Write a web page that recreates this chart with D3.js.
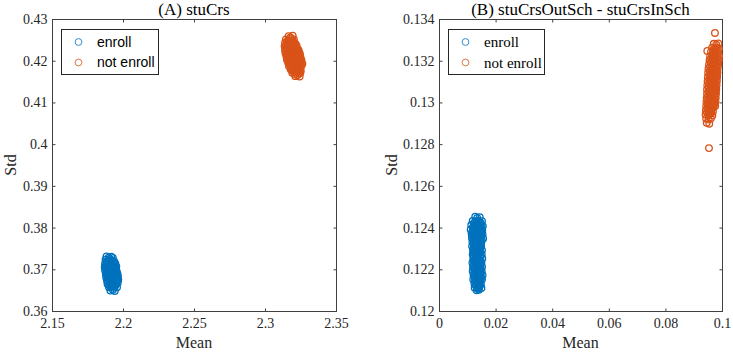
<!DOCTYPE html>
<html>
<head>
<meta charset="utf-8">
<script src="https://cdn.jsdelivr.net/npm/d3@7"></script>
<style>
  body { margin: 0; background: #fff; }
  svg { display: block; }
  .tick text { font-family: "Liberation Serif", "Times New Roman", serif; font-size: 14px; fill: #262626; }
  .tick line { stroke: #404040; }
</style>
</head>
<body>
<div id="chart"></div>
<script>
//
// two MATLAB style scatter panels
//

var seriesNames = ['enroll', 'not enroll'];
var seriesColors = ['#0072BD', '#D95319'];

// panel A : stuCrs  [mean, std]
var enrollA = [
    [2.1884,0.3731],[2.1899,0.3728],[2.1917,0.3730],[2.1929,0.3727],
    [2.1877,0.3723],[2.1894,0.3720],[2.1908,0.3724],[2.1925,0.3721],[2.1938,0.3719],
    [2.1873,0.3713],[2.1891,0.3716],[2.1904,0.3712],[2.1921,0.3715],[2.1933,0.3711],[2.1946,0.3714],
    [2.1871,0.3705],[2.1886,0.3707],[2.1902,0.3704],[2.1915,0.3708],[2.1931,0.3705],[2.1943,0.3703],[2.1953,0.3707],
    [2.1874,0.3697],[2.1890,0.3699],[2.1903,0.3696],[2.1919,0.3700],[2.1931,0.3697],[2.1947,0.3699],[2.1956,0.3695],
    [2.1879,0.3689],[2.1892,0.3691],[2.1908,0.3688],[2.1920,0.3692],[2.1936,0.3689],[2.1948,0.3691],[2.1962,0.3688],
    [2.1881,0.3681],[2.1897,0.3684],[2.1910,0.3680],[2.1926,0.3683],[2.1938,0.3681],[2.1954,0.3679],[2.1964,0.3683],
    [2.1887,0.3673],[2.1899,0.3675],[2.1916,0.3672],[2.1928,0.3676],[2.1944,0.3673],[2.1956,0.3671],[2.1967,0.3675],
    [2.1891,0.3665],[2.1908,0.3667],[2.1920,0.3664],[2.1936,0.3668],[2.1948,0.3665],[2.1963,0.3667],
    [2.1901,0.3657],[2.1914,0.3659],[2.1931,0.3656],[2.1943,0.3660],[2.1958,0.3657],
    [2.1911,0.3649],[2.1929,0.3651],[2.1942,0.3648],
    [2.1883,0.3718],[2.1899,0.3718],[2.1914,0.3717],[2.1929,0.3718],
    [2.1880,0.3710],[2.1896,0.3709],[2.1911,0.3710],[2.1926,0.3710],[2.1940,0.3709],
    [2.1881,0.3702],[2.1896,0.3702],[2.1911,0.3701],[2.1925,0.3702],[2.1939,0.3702],[2.1950,0.3701],
    [2.1883,0.3694],[2.1898,0.3693],[2.1912,0.3694],[2.1927,0.3694],[2.1941,0.3693],[2.1954,0.3694],
    [2.1886,0.3686],[2.1901,0.3686],[2.1916,0.3685],[2.1930,0.3686],[2.1944,0.3686],[2.1957,0.3685],
    [2.1890,0.3678],[2.1905,0.3677],[2.1920,0.3678],[2.1934,0.3678],[2.1948,0.3677],[2.1960,0.3678],
    [2.1895,0.3670],[2.1910,0.3670],[2.1925,0.3669],[2.1939,0.3670],[2.1953,0.3670],
    [2.1903,0.3662],[2.1918,0.3661],[2.1933,0.3662],[2.1947,0.3662]
];
var notEnrollA = [
    [2.3166,0.4259],[2.3179,0.4256],[2.3195,0.4260],
    [2.3147,0.4251],[2.3163,0.4248],[2.3176,0.4252],[2.3193,0.4249],[2.3204,0.4251],
    [2.3141,0.4243],[2.3157,0.4240],[2.3170,0.4244],[2.3187,0.4241],[2.3199,0.4243],[2.3215,0.4240],
    [2.3138,0.4235],[2.3154,0.4232],[2.3167,0.4236],[2.3184,0.4233],[2.3196,0.4235],[2.3213,0.4232],[2.3223,0.4236],
    [2.3141,0.4227],[2.3154,0.4224],[2.3171,0.4228],[2.3184,0.4225],[2.3200,0.4227],[2.3213,0.4224],[2.3229,0.4228],[2.3237,0.4225],
    [2.3143,0.4219],[2.3160,0.4216],[2.3173,0.4220],[2.3189,0.4217],[2.3202,0.4219],[2.3219,0.4216],[2.3231,0.4220],[2.3246,0.4217],
    [2.3150,0.4211],[2.3163,0.4208],[2.3180,0.4212],[2.3192,0.4209],[2.3209,0.4211],[2.3221,0.4208],[2.3238,0.4212],[2.3250,0.4209],
    [2.3154,0.4203],[2.3171,0.4200],[2.3184,0.4204],[2.3200,0.4201],[2.3213,0.4203],[2.3229,0.4200],[2.3242,0.4204],[2.3257,0.4201],
    [2.3163,0.4195],[2.3176,0.4192],[2.3192,0.4196],[2.3205,0.4193],[2.3221,0.4195],[2.3234,0.4192],[2.3250,0.4196],[2.3263,0.4193],
    [2.3169,0.4187],[2.3186,0.4184],[2.3199,0.4188],[2.3215,0.4185],[2.3228,0.4187],[2.3244,0.4184],[2.3257,0.4188],
    [2.3181,0.4179],[2.3194,0.4176],[2.3211,0.4180],[2.3223,0.4177],[2.3240,0.4179],[2.3252,0.4176],
    [2.3192,0.4171],[2.3209,0.4168],[2.3221,0.4172],[2.3238,0.4169],[2.3249,0.4171],
    [2.3213,0.4163],[2.3227,0.4165],[2.3244,0.4162],
    [2.3155,0.4246],[2.3170,0.4246],[2.3185,0.4245],[2.3199,0.4246],
    [2.3149,0.4238],[2.3164,0.4238],[2.3179,0.4237],[2.3193,0.4238],[2.3207,0.4238],
    [2.3147,0.4230],[2.3162,0.4230],[2.3177,0.4229],[2.3191,0.4230],[2.3206,0.4230],[2.3220,0.4229],
    [2.3150,0.4222],[2.3165,0.4222],[2.3180,0.4221],[2.3195,0.4222],[2.3209,0.4222],[2.3224,0.4221],[2.3236,0.4222],
    [2.3155,0.4214],[2.3170,0.4214],[2.3185,0.4213],[2.3200,0.4214],[2.3214,0.4214],[2.3229,0.4213],[2.3242,0.4214],
    [2.3160,0.4206],[2.3175,0.4206],[2.3190,0.4205],[2.3204,0.4206],[2.3219,0.4206],[2.3234,0.4205],[2.3248,0.4206],
    [2.3166,0.4198],[2.3181,0.4198],[2.3196,0.4197],[2.3210,0.4198],[2.3225,0.4198],[2.3240,0.4197],[2.3253,0.4198],
    [2.3175,0.4190],[2.3189,0.4190],[2.3204,0.4189],[2.3219,0.4190],[2.3233,0.4190],[2.3248,0.4189],
    [2.3186,0.4182],[2.3200,0.4182],[2.3215,0.4181],[2.3230,0.4182],[2.3244,0.4182],
    [2.3200,0.4174],[2.3215,0.4174],[2.3230,0.4173],[2.3243,0.4174]
];

// panel B : stuCrsOutSch - stuCrsInSch
var enrollB = [
    [0.0128,0.12452],[0.0135,0.12446],[0.0144,0.12450],
    [0.0119,0.12432],[0.0128,0.12428],[0.0137,0.12434],[0.0143,0.12427],[0.0152,0.12431],
    [0.0114,0.12412],[0.0124,0.12408],[0.0130,0.12413],[0.0140,0.12406],[0.0146,0.12411],[0.0155,0.12407],
    [0.0112,0.12391],[0.0121,0.12387],[0.0130,0.12393],[0.0136,0.12386],[0.0146,0.12392],[0.0153,0.12388],
    [0.0115,0.12371],[0.0121,0.12367],[0.0131,0.12373],[0.0138,0.12366],[0.0147,0.12372],[0.0154,0.12368],
    [0.0116,0.12351],[0.0125,0.12347],[0.0131,0.12353],[0.0141,0.12346],[0.0147,0.12352],[0.0156,0.12348],
    [0.0118,0.12331],[0.0124,0.12327],[0.0134,0.12333],[0.0140,0.12326],[0.0150,0.12332],
    [0.0117,0.12311],[0.0127,0.12307],[0.0133,0.12313],[0.0143,0.12306],[0.0149,0.12312],
    [0.0120,0.12291],[0.0126,0.12287],[0.0136,0.12293],[0.0142,0.12286],[0.0152,0.12292],
    [0.0119,0.12271],[0.0129,0.12267],[0.0135,0.12273],[0.0145,0.12266],[0.0151,0.12272],
    [0.0121,0.12251],[0.0127,0.12247],[0.0137,0.12253],[0.0143,0.12246],[0.0153,0.12252],
    [0.0118,0.12231],[0.0128,0.12227],[0.0134,0.12233],[0.0144,0.12226],[0.0150,0.12232],
    [0.0120,0.12211],[0.0126,0.12207],[0.0136,0.12213],[0.0142,0.12206],[0.0152,0.12212],
    [0.0119,0.12191],[0.0129,0.12187],[0.0135,0.12193],[0.0145,0.12186],[0.0151,0.12192],
    [0.0122,0.12171],[0.0128,0.12167],[0.0138,0.12173],[0.0144,0.12166],[0.0154,0.12172],
    [0.0121,0.12151],[0.0131,0.12147],[0.0137,0.12153],[0.0147,0.12146],[0.0152,0.12152],
    [0.0125,0.12131],[0.0131,0.12127],[0.0141,0.12133],[0.0148,0.12129],
    [0.0126,0.12112],[0.0136,0.12108],[0.0142,0.12114],[0.0150,0.12110],
    [0.0133,0.12099],[0.0141,0.12102],
    [0.0124,0.12422],[0.0133,0.12421],[0.0141,0.12422],[0.0148,0.12421],
    [0.0120,0.12402],[0.0128,0.12401],[0.0136,0.12402],[0.0144,0.12401],[0.0151,0.12402],
    [0.0118,0.12382],[0.0126,0.12381],[0.0134,0.12382],[0.0142,0.12381],[0.0150,0.12382],
    [0.0119,0.12362],[0.0127,0.12361],[0.0135,0.12362],[0.0143,0.12361],[0.0150,0.12362],
    [0.0121,0.12342],[0.0129,0.12341],[0.0137,0.12342],[0.0145,0.12341],[0.0151,0.12342],
    [0.0122,0.12322],[0.0130,0.12321],[0.0138,0.12322],[0.0146,0.12321],
    [0.0122,0.12302],[0.0130,0.12301],[0.0138,0.12302],[0.0146,0.12301],
    [0.0123,0.12282],[0.0131,0.12281],[0.0139,0.12282],[0.0147,0.12281],
    [0.0123,0.12262],[0.0131,0.12261],[0.0139,0.12262],[0.0147,0.12261],
    [0.0123,0.12242],[0.0131,0.12241],[0.0139,0.12242],[0.0147,0.12241],
    [0.0123,0.12222],[0.0131,0.12221],[0.0139,0.12222],[0.0147,0.12221],
    [0.0124,0.12202],[0.0132,0.12201],[0.0140,0.12202],[0.0148,0.12201],
    [0.0124,0.12182],[0.0132,0.12181],[0.0140,0.12182],[0.0148,0.12181],
    [0.0125,0.12162],[0.0133,0.12161],[0.0141,0.12162],[0.0149,0.12161],
    [0.0127,0.12142],[0.0135,0.12141],[0.0143,0.12142],
    [0.0130,0.12122],[0.0138,0.12121],[0.0145,0.12122]
];
var notEnrollB = [
    [0.0971,0.13281],[0.0980,0.13277],[0.0987,0.13283],
    [0.0965,0.13262],[0.0975,0.13258],[0.0981,0.13264],[0.0989,0.13257],
    [0.0961,0.13242],[0.0971,0.13238],[0.0977,0.13244],[0.0987,0.13237],
    [0.0958,0.13222],[0.0968,0.13218],[0.0974,0.13224],[0.0984,0.13217],[0.0990,0.13223],
    [0.0956,0.13202],[0.0966,0.13198],[0.0972,0.13204],[0.0982,0.13197],[0.0989,0.13203],
    [0.0954,0.13182],[0.0964,0.13178],[0.0970,0.13184],[0.0980,0.13177],[0.0987,0.13183],
    [0.0952,0.13162],[0.0962,0.13158],[0.0968,0.13164],[0.0978,0.13157],[0.0985,0.13163],
    [0.0951,0.13142],[0.0961,0.13138],[0.0967,0.13144],[0.0977,0.13137],[0.0984,0.13143],
    [0.0950,0.13122],[0.0960,0.13118],[0.0966,0.13124],[0.0976,0.13117],[0.0983,0.13123],
    [0.0949,0.13102],[0.0959,0.13098],[0.0965,0.13104],[0.0975,0.13097],[0.0982,0.13103],
    [0.0948,0.13082],[0.0958,0.13078],[0.0964,0.13084],[0.0974,0.13077],[0.0981,0.13083],
    [0.0947,0.13062],[0.0957,0.13058],[0.0963,0.13064],[0.0973,0.13057],[0.0980,0.13063],
    [0.0947,0.13042],[0.0957,0.13038],[0.0963,0.13044],[0.0973,0.13037],[0.0979,0.13043],
    [0.0946,0.13022],[0.0956,0.13018],[0.0962,0.13024],[0.0972,0.13017],[0.0978,0.13023],
    [0.0945,0.13002],[0.0955,0.12998],[0.0961,0.13004],[0.0971,0.12997],[0.0977,0.13003],
    [0.0944,0.12982],[0.0954,0.12978],[0.0960,0.12984],[0.0970,0.12977],[0.0976,0.12983],
    [0.0943,0.12962],[0.0953,0.12958],[0.0959,0.12964],[0.0968,0.12957],
    [0.0942,0.12942],[0.0952,0.12938],[0.0958,0.12944],[0.0966,0.12937],
    [0.0944,0.12922],[0.0953,0.12918],[0.0961,0.12924],
    [0.0946,0.12902],[0.0955,0.12898],
    [0.0975,0.13333],[0.0948,0.13247],[0.0954,0.12781],
    [0.0969,0.13252],[0.0977,0.13251],[0.0985,0.13252],
    [0.0966,0.13232],[0.0974,0.13231],[0.0982,0.13232],
    [0.0962,0.13212],[0.0970,0.13211],[0.0978,0.13212],[0.0986,0.13211],
    [0.0960,0.13192],[0.0968,0.13191],[0.0976,0.13192],[0.0984,0.13191],
    [0.0958,0.13172],[0.0966,0.13171],[0.0974,0.13172],[0.0982,0.13171],
    [0.0957,0.13152],[0.0965,0.13151],[0.0973,0.13152],[0.0981,0.13151],
    [0.0956,0.13132],[0.0964,0.13131],[0.0972,0.13132],[0.0980,0.13131],
    [0.0955,0.13112],[0.0963,0.13111],[0.0971,0.13112],[0.0979,0.13111],
    [0.0954,0.13092],[0.0962,0.13091],[0.0970,0.13092],[0.0978,0.13091],
    [0.0953,0.13072],[0.0961,0.13071],[0.0969,0.13072],[0.0977,0.13071],
    [0.0952,0.13052],[0.0960,0.13051],[0.0968,0.13052],[0.0976,0.13051],
    [0.0951,0.13032],[0.0959,0.13031],[0.0967,0.13032],[0.0975,0.13031],
    [0.0950,0.13012],[0.0958,0.13011],[0.0966,0.13012],[0.0974,0.13011],
    [0.0949,0.12992],[0.0957,0.12991],[0.0965,0.12992],[0.0973,0.12991],
    [0.0948,0.12972],[0.0956,0.12971],[0.0964,0.12972],
    [0.0947,0.12952],[0.0955,0.12951],[0.0963,0.12952]
];

var xTicksA = [2.15, 2.2, 2.25, 2.3, 2.35];
var yTicksA = [0.36, 0.37, 0.38, 0.39, 0.4, 0.41, 0.42, 0.43];
var xTicksB = [0, 0.02, 0.04, 0.06, 0.08, 0.1];
var yTicksB = [0.12, 0.122, 0.124, 0.126, 0.128, 0.13, 0.132, 0.134];

var width = 733, height = 354;
var serif = '"Liberation Serif", "Times New Roman", serif';
var sans = '"Liberation Sans", Arial, sans-serif';

var svg = d3.select("#chart").append("svg")
    .attr("width", width)
    .attr("height", height);

function fmt(d) { return String(+d.toFixed(6)); }

function drawPanel(p) {
    var x = d3.scaleLinear().domain(p.xDomain).range([p.left, p.right]);
    var y = d3.scaleLinear().domain(p.yDomain).range([p.bottom, p.top]);
    var g = svg.append("g");

    // axes with inward ticks, box on
    g.append("g").attr("transform", "translate(0," + (p.bottom + 0.5) + ")")
        .call(d3.axisBottom(x).tickValues(p.xTicks).tickFormat(fmt).tickSizeInner(-3).tickSizeOuter(0).tickPadding(7))
        .call(s => s.select(".domain").remove());
    g.append("g").attr("transform", "translate(0," + (p.top + 0.5) + ")")
        .call(d3.axisTop(x).tickValues(p.xTicks).tickFormat("").tickSizeInner(-3).tickSizeOuter(0))
        .call(s => s.select(".domain").remove());
    g.append("g").attr("transform", "translate(" + (p.left + 0.5) + ",0)")
        .call(d3.axisLeft(y).tickValues(p.yTicks).tickFormat(fmt).tickSizeInner(-3).tickSizeOuter(0).tickPadding(5))
        .call(s => s.select(".domain").remove());
    g.append("g").attr("transform", "translate(" + (p.right + 0.5) + ",0)")
        .call(d3.axisRight(y).tickValues(p.yTicks).tickFormat("").tickSizeInner(-3).tickSizeOuter(0))
        .call(s => s.select(".domain").remove());

    g.append("rect")
        .attr("x", p.left + 0.5).attr("y", p.top + 0.5)
        .attr("width", p.right - p.left).attr("height", p.bottom - p.top)
        .attr("fill", "none").attr("stroke", "#404040").attr("stroke-width", 1);

    // points
    [p.enroll, p.notEnroll].forEach(function (data, i) {
        g.append("g").selectAll("circle")
            .data(data)
            .enter()
            .append("circle")
            .attr("cx", d => x(d[0]))
            .attr("cy", d => y(d[1]))
            .attr("r", 3.3)
            .attr("fill", "none")
            .attr("stroke", seriesColors[i])
            .attr("stroke-width", 1.3);
    });

    // title and labels
    g.append("text")
        .attr("x", (p.left + p.right) / 2).attr("y", 15)
        .attr("text-anchor", "middle")
        .style("font-family", serif).style("font-size", "17px").attr("fill", "#000")
        .text(p.title);
    g.append("text")
        .attr("x", (p.left + p.right) / 2).attr("y", 348)
        .attr("text-anchor", "middle")
        .style("font-family", serif).style("font-size", "16px").attr("fill", "#262626")
        .text("Mean");
    g.append("text")
        .attr("transform", "translate(" + (p.left - p.yLabOff) + "," + ((p.top + p.bottom) / 2) + ") rotate(-90)")
        .attr("text-anchor", "middle")
        .style("font-family", serif).style("font-size", "16px").attr("fill", "#262626")
        .text("Std");

    // legend
    var lg = g.append("g").attr("transform", "translate(" + p.legX + "," + p.legY + ")");
    lg.append("rect")
        .attr("x", 0.5).attr("y", 0.5).attr("width", p.legW).attr("height", 45)
        .attr("fill", "#fff").attr("stroke", "#262626").attr("stroke-width", 1);
    seriesNames.forEach(function (name, i) {
        lg.append("circle")
            .attr("cx", 17.5).attr("cy", 13 + i * 20.5)
            .attr("r", 3.4)
            .attr("fill", "none").attr("stroke", seriesColors[i]).attr("stroke-width", 0.8);
        lg.append("text")
            .attr("x", 36).attr("y", 13 + i * 20.5)
            .attr("dy", "0.35em")
            .style("font-family", p.legFont).style("font-size", p.legSize).attr("fill", "#000")
            .text(name);
    });
}

drawPanel({
    title: "(A) stuCrs", left: 52, right: 336, top: 19, bottom: 311,
    xDomain: [2.15, 2.35], yDomain: [0.36, 0.43], xTicks: xTicksA, yTicks: yTicksA,
    enroll: enrollA, notEnroll: notEnrollA, yLabOff: 36,
    legX: 61, legY: 29, legW: 97, legFont: sans, legSize: "14px"
});
drawPanel({
    title: "(B) stuCrsOutSch - stuCrsInSch", left: 439, right: 722, top: 19, bottom: 311,
    xDomain: [0, 0.1], yDomain: [0.12, 0.134], xTicks: xTicksB, yTicks: yTicksB,
    enroll: enrollB, notEnroll: notEnrollB, yLabOff: 42,
    legX: 448, legY: 29, legW: 96, legFont: serif, legSize: "15px"
});
</script>
</body>
</html>
